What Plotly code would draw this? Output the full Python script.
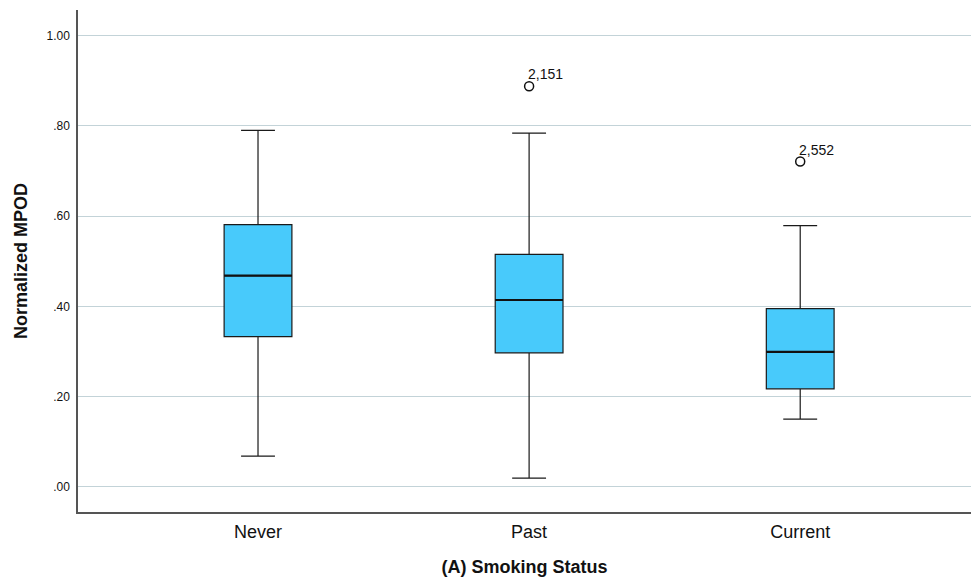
import plotly.graph_objects as go

# Smoking status groups and their box-plot statistics (Normalized MPOD)
categories = ["Never", "Past", "Current"]
lower_whisker = [0.068, 0.019, 0.150]
q1 = [0.333, 0.297, 0.217]
median = [0.468, 0.414, 0.299]
q3 = [0.581, 0.515, 0.395]
upper_whisker = [0.790, 0.784, 0.579]

# Flagged outliers: group index, value, case label
outlier_group = [1, 2]
outlier_value = [0.888, 0.721]
outlier_label = ["2,151", "2,552"]

ytick_vals = [0.0, 0.2, 0.4, 0.6, 0.8, 1.0]
ytick_text = [".00", ".20", ".40", ".60", ".80", "1.00"]

BOX_W = 0.25
FILL = "#48CAFB"
FONT = "Arial, Liberation Sans, sans-serif"

xs = list(range(len(categories)))

fig = go.Figure()

fig.add_trace(go.Box(
    x=xs,
    q1=q1, median=median, q3=q3,
    lowerfence=lower_whisker, upperfence=upper_whisker,
    width=BOX_W,
    whiskerwidth=0.5,
    fillcolor=FILL,
    line=dict(color="#1a1a1a", width=1.2),
    boxpoints=False,
    hoverinfo="skip",
    showlegend=False,
))

# heavier median bars drawn over the boxes
for i, m in zip(xs, median):
    fig.add_trace(go.Scatter(
        x=[i - BOX_W / 2, i + BOX_W / 2], y=[m, m],
        mode="lines", line=dict(color="#111111", width=2.2),
        hoverinfo="skip", showlegend=False,
    ))

fig.add_trace(go.Scatter(
    x=outlier_group, y=outlier_value,
    mode="markers",
    marker=dict(symbol="circle-open", size=9, color="#111111", line=dict(width=1.5)),
    hoverinfo="skip", showlegend=False,
))

for g, v, lab in zip(outlier_group, outlier_value, outlier_label):
    fig.add_annotation(
        x=g, y=v, text=lab, showarrow=False,
        xanchor="left", yanchor="bottom", xshift=-3, yshift=2,
        font=dict(family=FONT, size=14, color="#111111"),
    )

fig.update_layout(
    width=971, height=580,
    margin=dict(l=78, r=0, t=10, b=68),
    paper_bgcolor="white", plot_bgcolor="white",
    font=dict(family=FONT, color="#111111"),
)

fig.update_xaxes(
    range=[-0.664, 2.63],
    tickvals=xs, ticktext=categories,
    tickfont=dict(size=18, color="#111111"),
    showgrid=False, zeroline=False,
    showline=True, linecolor="#555555", linewidth=1.5,
    ticks="", ticklabelstandoff=3,
    title=dict(text="<b>(A) Smoking Status</b>", font=dict(size=18, color="#111111"), standoff=19),
)

fig.update_yaxes(
    range=[-0.056, 1.057],
    tickvals=ytick_vals, ticktext=ytick_text,
    tickfont=dict(size=12, color="#111111"),
    showgrid=True, gridcolor="#C3D3D8", gridwidth=1.3,
    zeroline=False,
    showline=True, linecolor="#555555", linewidth=1.5,
    ticks="", ticklabelstandoff=4,
    title=dict(text="<b>Normalized MPOD</b>", font=dict(size=18, color="#111111"), standoff=14),
)

fig.write_html("out.html")
